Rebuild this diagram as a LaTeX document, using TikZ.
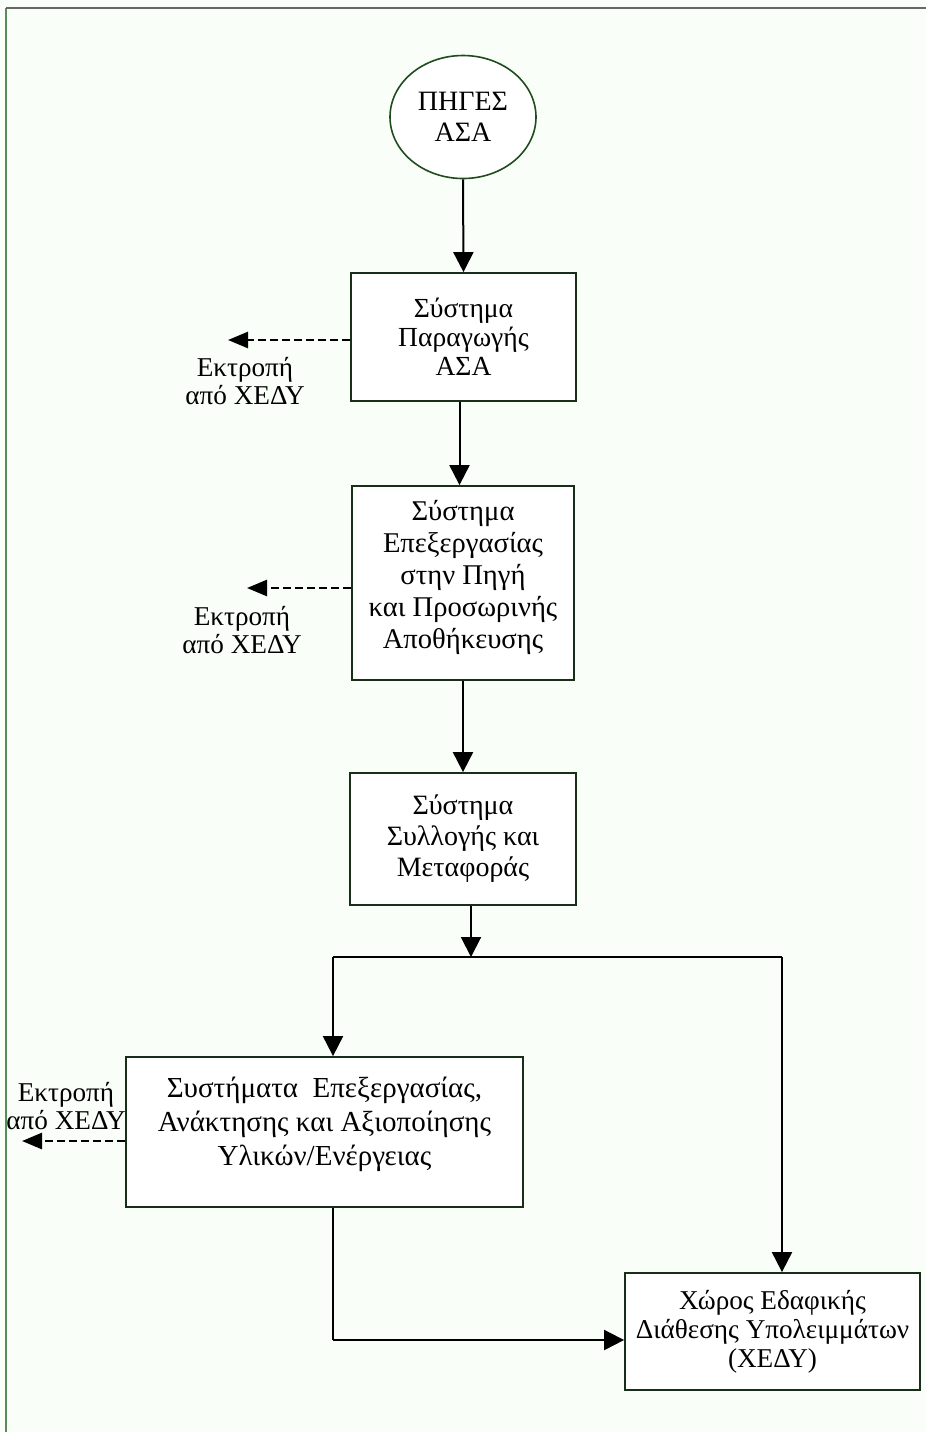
\documentclass[tikz,border=0pt]{standalone}
\usepackage{fontspec}
\setmainfont{Liberation Serif}
\usetikzlibrary{shapes.geometric,arrows.meta,calc}

\definecolor{edgegreen}{rgb}{0.12,0.30,0.12}
\definecolor{boxline}{rgb}{0.10,0.18,0.10}
\definecolor{pagetint}{rgb}{0.975,0.995,0.975}
\definecolor{frameline}{rgb}{0.35,0.55,0.35}

\tikzset{
  x=0.5pt, y=-0.5pt,
  every node/.style={text=black},
  stagebox/.style={draw=boxline, line width=0.9pt, fill=white, rectangle,
    inner sep=0pt, align=center},
  srcnode/.style={draw=edgegreen, line width=0.8pt, fill=white, ellipse,
    inner sep=0pt, align=center},
  plain/.style={align=center, inner sep=0pt},
  lbl/.style={plain, font=\fontsize{13.6}{14}\selectfont},
  flow/.style={draw=black, line width=1pt,
    -{Triangle[length=10pt, width=10pt]}},
  flowline/.style={draw=black, line width=1pt},
  divert/.style={draw=black, line width=1.3pt, dash pattern=on 4pt off 2pt,
    -{Triangle[length=10pt, width=8pt]}},
}

\begin{document}
\begin{tikzpicture}
  % page and frame
  \fill[pagetint] (0,0) rectangle (926,1432);
  \useasboundingbox (0,0) rectangle (926,1432);
  \draw[frameline, line width=0.8pt] (6,1432) -- (6,8);
  \draw[black!60, line width=0.9pt] (6,8) -- (926,8);

  % stages
  \node[srcnode, minimum width=73pt, minimum height=61.5pt,
        font=\fontsize{14}{15.5}\selectfont] (src) at (463,117)
    {ΠΗΓΕΣ\\ΑΣΑ};
  \node[stagebox, minimum width=112.5pt, minimum height=64pt,
        font=\fontsize{13.8}{14.5}\selectfont] (b1) at (463.5,337)
    {Σύστημα\\Παραγωγής\\ΑΣΑ};
  \node[stagebox, minimum width=111pt, minimum height=97pt] (b2) at (463,583) {};
  \node[plain, font=\fontsize{14.3}{16}\selectfont] (t2) at (463,577)
    {Σύστημα\\Επεξεργασίας\\στην Πηγή\\και Προσωρινής\\Αποθήκευσης};
  \node[stagebox, minimum width=113pt, minimum height=66pt,
        font=\fontsize{14}{15.5}\selectfont] (b3) at (463,839)
    {Σύστημα\\Συλλογής και\\Μεταφοράς};
  \node[stagebox, minimum width=198.5pt, minimum height=75pt] (b4) at (324.5,1132) {};
  \node[plain, font=\fontsize{14.5}{17}\selectfont] (t4) at (324.5,1124)
    {Συστήματα\ \ Επεξεργασίας,\\Ανάκτησης και Αξιοποίησης\\Υλικών/Ενέργειας};
  \node[stagebox, minimum width=147.5pt, minimum height=58.5pt,
        font=\fontsize{13.6}{14.5}\selectfont] (b5) at (772.5,1331.5)
    {Χώρος Εδαφικής\\Διάθεσης Υπολειμμάτων\\(ΧΕΔΥ)};

  % diversion labels
  \node[lbl] (d1) at (245,381) {Εκτροπή\\από ΧΕΔΥ};
  \node[lbl] (d2) at (242,630) {Εκτροπή\\από ΧΕΔΥ};
  \node[lbl] (d3) at (66,1106) {Εκτροπή\\από ΧΕΔΥ};

  % helper points of the branching
  \coordinate (j) at (471,957);
  \coordinate (jl) at (333,957);
  \coordinate (jr) at (782,957);
  \coordinate (k) at (333,1340);
  \coordinate (e1) at (228,340);
  \coordinate (e2) at (247,588);
  \coordinate (e3) at (22,1141);

  % main flow
  \draw[flow] (src.south) -- (b1.north);
  \draw[flow] ([xshift=-2pt]b1.south) -- ([xshift=-2pt]b1.south |- b2.north);
  \draw[flow] (b2.south) -- (b3.north);
  \draw[flow] (b3.south -| j) -- (j);
  \draw[flowline] (jl) -- (jr);
  \draw[flow] (jl) -- (jl |- b4.north);
  \draw[flow] (jr) -- (jr |- b5.north);
  \draw[flowline] (b4.south -| k) -- (k);
  \draw[flow] (k) -- (k -| b5.west);

  % diversions
  \draw[divert] (b1.west |- e1) -- (e1);
  \draw[divert] (b2.west |- e2) -- (e2);
  \draw[divert] (b4.west |- e3) -- (e3);
\end{tikzpicture}
\end{document}
